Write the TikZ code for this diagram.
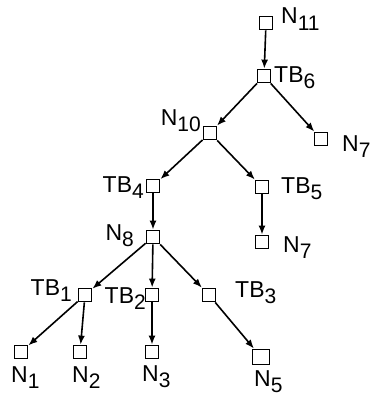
\documentclass[tikz,border=0pt]{standalone}
\usepackage{fontspec}
\setmainfont{Liberation Sans}
\usetikzlibrary{arrows.meta}
\newcommand{\lbl}[2]{#1\raisebox{-6pt}{\fontsize{21}{21}\selectfont #2}}
\begin{document}
\begin{tikzpicture}[x=1pt,y=-1pt,
  box/.style={draw,line width=1.8pt,minimum width=13pt,minimum height=13pt,inner sep=0pt},
  lab/.style={anchor=base west,inner sep=0pt,font=\fontsize{23}{23}\selectfont},
  labr/.style={lab,anchor=base east},
  edge/.style={line width=1.6pt,-{Latex[length=9pt,width=7pt]}}]
\useasboundingbox (0,0) rectangle (376,396);
\node[box] (n11) at (266,23) {};
\node[box] (tb6) at (264,76) {};
\node[box] (n10) at (210,133) {};
\node[box] (n7a) at (321,139) {};
\node[box] (tb4) at (153,186) {};
\node[box] (tb5) at (262,187) {};
\node[box] (n7b) at (262,242) {};
\node[box] (n8) at (153,237) {};
\node[box] (tb1) at (85,295) {};
\node[box] (tb2) at (152,295) {};
\node[box] (tb3) at (209,295) {};
\node[box] (n1) at (21,352) {};
\node[box] (n2) at (80,352) {};
\node[box] (n3) at (152,352) {};
\node[box,minimum width=17pt,minimum height=15pt] (n5) at (261,357) {};
% labels
\node[lab] (ln11) at (281,24) {\lbl{N}{11}};
\node[lab] (ltb6) at (274,82) {\lbl{TB}{6}};
\node[labr] (ln10) at (201,125) {\lbl{N}{10}};
\node[lab] (ln7a) at (342,151) {\lbl{N}{7}};
\node[lab] (ltb5) at (281,193) {\lbl{TB}{5}};
\node[labr] (ltb4) at (144,192) {\lbl{TB}{4}};
\node[labr] (ln8) at (134,240) {\lbl{N}{8}};
\node[lab] (ln7b) at (283,252) {\lbl{N}{7}};
\node[labr] (ltb1) at (72,295) {\lbl{TB}{1}};
\node[labr] (ltb2) at (146,303) {\lbl{TB}{2}};
\node[lab] (ltb3) at (235,297) {\lbl{TB}{3}};
\node[lab] (ln1) at (11,382) {\lbl{N}{1}};
\node[lab] (ln2) at (72,382) {\lbl{N}{2}};
\node[lab] (ln3) at (142,381) {\lbl{N}{3}};
\node[lab] (ln5) at (254,386) {\lbl{N}{5}};
% edges
\draw[edge] (n11) -- (tb6);
\draw[edge] (tb6) -- (n10);
\draw[edge] (tb6) -- (n7a);
\draw[edge] (n10) -- (tb4);
\draw[edge] (n10) -- (tb5);
\draw[edge] (tb5) -- (n7b);
\draw[edge] (tb4) -- (n8);
\draw[edge] (n8) -- (tb1);
\draw[edge] (n8) -- (tb2);
\draw[edge] (n8) -- (tb3);
\draw[edge] (tb1) -- (n1);
\draw[edge] (tb1) -- (n2);
\draw[edge] (tb2) -- (n3);
\draw[edge] (tb3) -- (n5);
\end{tikzpicture}
\end{document}
